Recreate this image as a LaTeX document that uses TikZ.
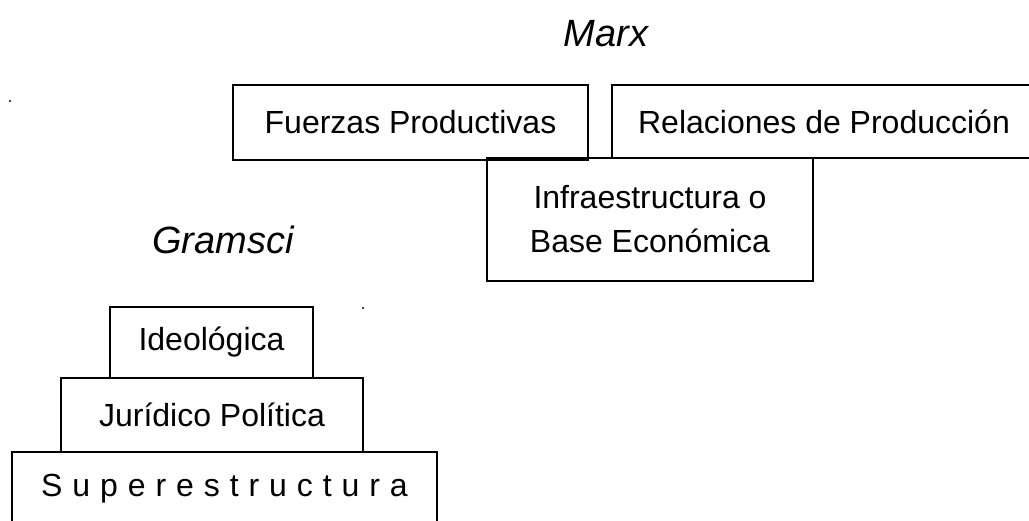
\documentclass[tikz,border=0pt]{standalone}
\usepackage{fontspec}
\setmainfont{Liberation Sans}
\newfontfamily\spacedfont[LetterSpace=31]{Liberation Sans}
\begin{document}
\begin{tikzpicture}[x=1pt,y=-1pt,
  box/.style={draw,line width=1.8pt,inner sep=0pt,font=\fontsize{32}{44}\selectfont,align=center},
  title/.style={font=\fontsize{38}{40}\selectfont\itshape,inner sep=0pt}]
\useasboundingbox (0,0) rectangle (1029,521);
\clip (0,0) rectangle (1029,521);
\node[title] (marx) at (606,34) {Marx};
\node[title] (gramsci) at (223,240) {Gramsci};
\node[box,minimum width=355,minimum height=75] (fp) at (410.5,122.5) {Fuerzas Productivas};
\node[box,minimum width=424,minimum height=73] (rp) at (824,121.5) {Relaciones de Producción};
\node[box,minimum width=326,minimum height=123] (ib) at (650,219.5) {Infraestructura o\\Base Económica};
\node[box,minimum width=203,minimum height=71] (id) at (211.5,342.5) {Ideológica};
\node[box,minimum width=302,minimum height=74] (jp) at (212,415) {Jurídico Política};
\node[box,minimum width=425,minimum height=74,font=\fontsize{32}{44}\spacedfont] (se) at (224.5,489) {Superestructura};
\fill (10,101) circle (1.2);
\fill (363,308) circle (1.2);
\end{tikzpicture}
\end{document}
